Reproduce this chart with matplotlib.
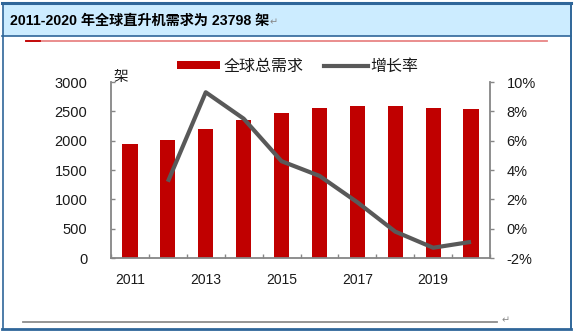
import matplotlib.pyplot as plt
from matplotlib.patches import Rectangle
from matplotlib.lines import Line2D
from matplotlib.ticker import FuncFormatter
import numpy as np

plt.rcParams['font.family'] = ['Liberation Sans', 'Noto Sans CJK SC', 'DejaVu Sans']

years = [2011, 2012, 2013, 2014, 2015, 2016, 2017, 2018, 2019, 2020]
demand = [1950, 2010, 2200, 2355, 2470, 2555, 2590, 2585, 2550, 2533]
growth = [3.2, 9.3, 7.5, 4.6, 3.6, 1.8, -0.2, -1.3, -0.9]   # 2012-2020, %
year_labels = ['2011', '2013', '2015', '2017', '2019']

W, H = 574, 331
BAR_RED = '#C00000'
LINE_GRAY = '#595959'
AXIS_GRAY = '#868686'
TEXT = '#1a1a1a'
FRAME = '#2F6699'


def fx(px):
    return px / W


def fy(py):
    return 1 - py / H


fig = plt.figure(figsize=(W / 100, H / 100), dpi=100)

# header band and frame
fig.patches.append(Rectangle((fx(3), fy(36)), fx(568), 32 / H, transform=fig.transFigure,
                             facecolor='#CCECFF', edgecolor='none', zorder=0))
frame = dict(transform=fig.transFigure, color=FRAME)
fig.lines += [
    Line2D([fx(2), fx(571)], [fy(3), fy(3)], lw=2.2, **frame),
    Line2D([fx(2), fx(571)], [fy(36), fy(36)], lw=1.2, **frame),
    Line2D([fx(2.5), fx(2.5)], [fy(3), fy(329)], lw=1.2, **frame),
    Line2D([fx(570.5), fx(570.5)], [fy(3), fy(329)], lw=1.4, **frame),
    Line2D([fx(2), fx(571)], [fy(328.5), fy(328.5)], lw=2, **frame),
    Line2D([fx(26), fx(547)], [fy(40.5), fy(40.5)], lw=1.3, color='#E88585', transform=fig.transFigure),
    Line2D([fx(26), fx(40)], [fy(40.5), fy(40.5)], lw=1.3, color='#C00000', transform=fig.transFigure),
    Line2D([fx(23), fx(497)], [fy(321.5), fy(321.5)], lw=1.3, color='#8C8C8C', transform=fig.transFigure),
]

fig.text(fx(10), fy(21), '2011-2020 年全球直升机需求为 23798 架', fontsize=10.2, fontweight='bold',
         color='black', va='center', ha='left')
fig.text(fx(270), fy(22), '↵', fontsize=7, color='#888888', va='center', ha='left',
         family='DejaVu Sans')
fig.text(fx(502), fy(320), '↵', fontsize=7, color='#888888', va='center', ha='left',
         family='DejaVu Sans')

ax = fig.add_axes([fx(111), fy(258), 379 / W, 176 / H])
x = np.arange(len(years))
ax.bar(x, demand, width=0.4, color=BAR_RED, zorder=2)
ax.set_xlim(-0.5, len(years) - 0.5)
ax.set_ylim(0, 3000)
ax.set_yticks(range(0, 3001, 500))

ax.set_xticks(np.arange(-0.5, len(years), 1.0))
ax.set_xticklabels([])
ax.set_xticks(x[::2], minor=True)
ax.set_xticklabels(year_labels, minor=True)
ax.tick_params(axis='x', which='major', direction='in', length=3, width=1, color=AXIS_GRAY)
ax.tick_params(axis='x', which='minor', length=0, pad=10.5, labelsize=10, labelcolor=TEXT)
ax.tick_params(axis='y', direction='in', length=3, width=1, color=AXIS_GRAY,
               pad=17, labelsize=10.5, labelcolor=TEXT)

for side in ['top', 'right']:
    ax.spines[side].set_visible(False)
for side in ['left', 'bottom']:
    ax.spines[side].set_color(AXIS_GRAY)
    ax.spines[side].set_linewidth(1.3)

ax2 = ax.twinx()
ax2.set_ylim(-2, 10)
ax2.set_yticks(range(-2, 11, 2))
ax2.yaxis.set_major_formatter(FuncFormatter(lambda v, _: f'{v:.0f}%'))
ax2.tick_params(axis='y', direction='out', length=3, width=1, color=AXIS_GRAY,
                pad=9, labelsize=10.5, labelcolor=TEXT)
for side in ['top', 'left', 'bottom']:
    ax2.spines[side].set_visible(False)
ax2.spines['right'].set_color(AXIS_GRAY)
ax2.spines['right'].set_linewidth(1.3)

ax2.plot(x[1:], growth, color=LINE_GRAY, lw=3, solid_joinstyle='round',
         solid_capstyle='butt', zorder=3)

fig.text(fx(121), fy(77), '架', fontsize=10.5, color=TEXT, ha='center', va='center')

handles = [Rectangle((0, 0), 1, 1, facecolor=BAR_RED, edgecolor='none'),
           Line2D([], [], color=LINE_GRAY, lw=3)]
fig.legend(handles, ['全球总需求', '增长率'], loc='center', ncol=2,
           bbox_to_anchor=(fx(298), fy(66)), frameon=False, fontsize=11.5,
           handlelength=2.7, handleheight=0.45, handletextpad=0.2, columnspacing=1.3,
           labelcolor=TEXT)

fig.savefig('out.png', dpi=100)
